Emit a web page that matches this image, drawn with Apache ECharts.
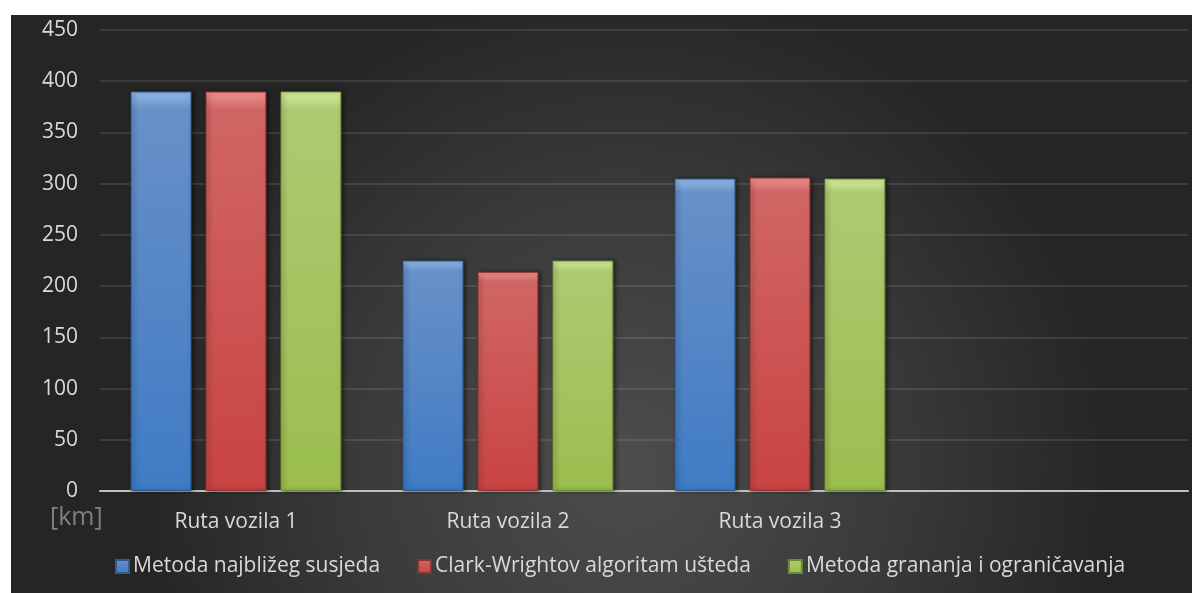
<!DOCTYPE html>
<html>
<head>
<meta charset="utf-8">
<script src="https://cdn.jsdelivr.net/npm/echarts@6/dist/echarts.min.js"></script>
<style>
html,body{margin:0;padding:0;background:#fff;}
#c{width:1192px;height:593px;}
</style>
</head>
<body>
<div id="c"></div>
<script>
const categories = ['Ruta vozila 1', 'Ruta vozila 2', 'Ruta vozila 3', ''];
const seriesNames = ['Metoda najbližeg susjeda', 'Clark-Wrightov algoritam ušteda', 'Metoda grananja i ograničavanja'];
const nearestNeighbour = [390, 225, 305];
const clarkWright = [390, 214, 306];
const branchBound = [390, 225, 305];
const yTicks = { min: 0, max: 450, interval: 50 };
const unitLabel = '[km]';

const FONT = 'Open Sans';
const chart = echarts.init(document.getElementById('c'));

function grad(top, mid, bottom) {
  return new echarts.graphic.LinearGradient(0, 0, 0, 1, [
    { offset: 0, color: top },
    { offset: 0.045, color: mid },
    { offset: 1, color: bottom }
  ]);
}
const styles = [
  { color: grad('#95bbec', '#6890c8', '#3f7bc4'), borderColor: '#2f5a90' },
  { color: grad('#f29593', '#d06664', '#c84442'), borderColor: '#8e3230' },
  { color: grad('#d8ef9e', '#accb72', '#9bbe4f'), borderColor: '#6d8a36' }
];
const data = [nearestNeighbour, clarkWright, branchBound];

chart.setOption({
  backgroundColor: '#ffffff',
  animation: false,
  graphic: [
    {
      type: 'rect', z: -10, silent: true,
      shape: { x: 11, y: 15, width: 1181, height: 578 },
      style: {
        fill: new echarts.graphic.RadialGradient(0.52, 0.78, 0.85, [
          { offset: 0, color: '#4d4d4d' },
          { offset: 0.55, color: '#3a3a3a' },
          { offset: 1, color: '#252525' }
        ])
      }
    },
    {
      type: 'text', left: 50, top: 505,
      style: { text: unitLabel, fill: '#808080', font: '25px "' + FONT + '"' }
    }
  ],
  grid: { left: 100, right: 4, top: 30, bottom: 102, containLabel: false },
  legend: {
    left: 110, top: 551,
    itemWidth: 13, itemHeight: 13, itemGap: 37,
    icon: 'rect',
    textStyle: { color: '#d9d9d9', fontSize: 21, fontFamily: FONT, padding: [0, 0, 0, -1] },
    data: seriesNames
  },
  xAxis: {
    type: 'category',
    data: categories,
    axisLine: { lineStyle: { color: '#bfbfbf', width: 2 } },
    axisTick: { show: false },
    axisLabel: { color: '#d9d9d9', fontSize: 21, fontFamily: FONT, margin: 21 }
  },
  yAxis: {
    type: 'value',
    min: yTicks.min, max: yTicks.max, interval: yTicks.interval,
    axisLine: { show: false },
    axisTick: { show: false },
    axisLabel: { color: '#d9d9d9', fontSize: 21, fontFamily: FONT, margin: 22 },
    splitLine: { lineStyle: { color: 'rgba(255,255,255,0.1)', width: 2 } }
  },
  series: seriesNames.map((name, i) => ({
    name: name,
    type: 'bar',
    data: data[i],
    barGap: '23%',
    barCategoryGap: '22.5%',
    itemStyle: {
      color: styles[i].color,
      borderColor: styles[i].borderColor,
      borderWidth: 1,
      shadowColor: 'rgba(0,0,0,0.5)',
      shadowBlur: 4,
      shadowOffsetX: 2,
      shadowOffsetY: 0
    }
  }))
});
</script>
</body>
</html>
